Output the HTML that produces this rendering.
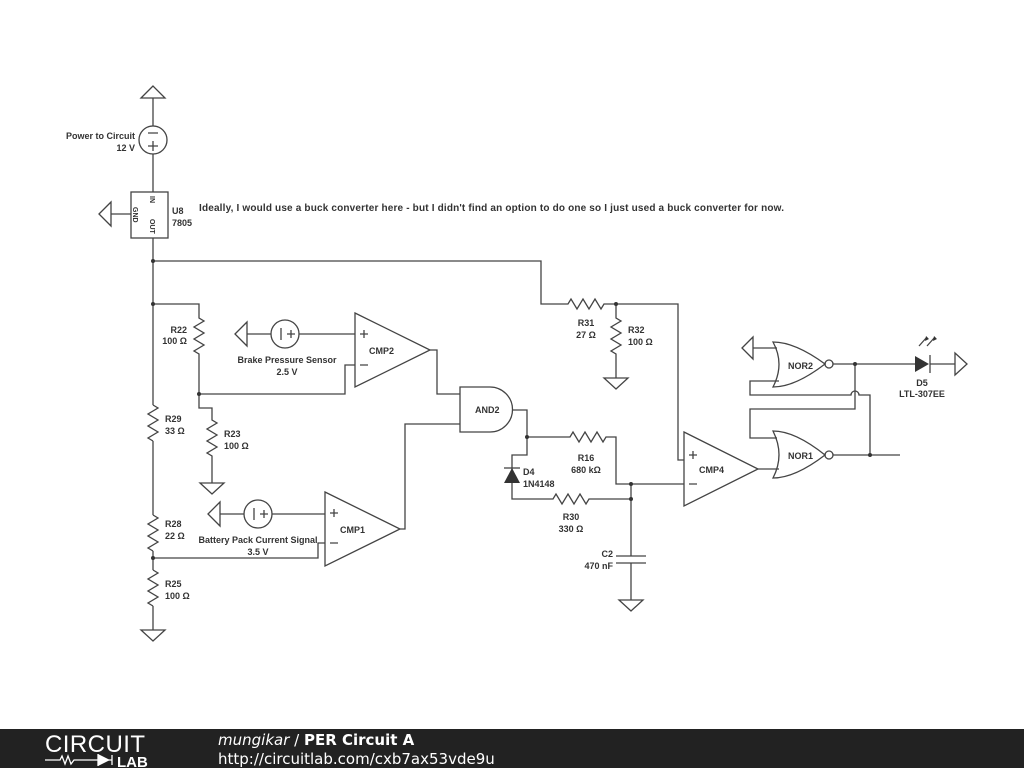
<!DOCTYPE html>
<html><head><meta charset="utf-8"><style>
body{margin:0;background:#fff;width:1024px;height:768px;overflow:hidden}
svg{display:block}
text{font-family:"Liberation Sans",sans-serif;font-size:9px;font-weight:bold;fill:#333}
</style></head><body>
<svg width="1024" height="768" viewBox="0 0 1024 768">
<g fill="none" stroke="#444" stroke-width="1.3">
<path d="M153 86 L141 98 L165 98 Z"/>
<path d="M153 98 V126 M153 154 V192"/>
<circle cx="153" cy="140" r="14"/>
<path d="M148 133 H158 M148 146 H158 M153 141 V151"/>
<rect x="131" y="192" width="37" height="46"/>
<path d="M99 214 L111 202 V226 Z M111 214 H131"/>
<path d="M153 238 V405 M153 441 V515 M153 551 V570 M153 606 V630"/>
<path d="M141 630 H165 L153 641 Z"/>
<path d="M153 261 H541 V304 H568 l3 -5 l6 10 l6 -10 l6 10 l6 -10 l6 10 l3 -5 H678 V460 H684"/>
<path d="M616 304 V318 l5 3 l-10 6 l10 6 l-10 6 l10 6 l-10 6 l5 3 V378"/>
<path d="M604 378 H628 L616 389 Z"/>
<path d="M153 304 H199 V318 l5 3 l-10 6 l10 6 l-10 6 l10 6 l-10 6 l5 3 V394 H345 V365 H355"/>
<path d="M199 394 V408 H212 V420 l5 3 l-10 6 l10 6 l-10 6 l10 6 l-10 6 l5 3 V483"/>
<path d="M200 483 H224 L212 494 Z"/>
<path d="M153 405 l5 3 l-10 6 l10 6 l-10 6 l10 6 l-10 6 l5 3"/>
<path d="M153 515 l5 3 l-10 6 l10 6 l-10 6 l10 6 l-10 6 l5 3"/>
<path d="M153 570 l5 3 l-10 6 l10 6 l-10 6 l10 6 l-10 6 l5 3"/>
<path d="M355 313 L430 350 L355 387 Z"/>
<path d="M360 334 H368 M364 330 V338 M360 365 H368"/>
<circle cx="285" cy="334" r="14"/>
<path d="M299 334 H355 M271 334 H247 M235 334 L247 322 V346 Z"/>
<path d="M281 328 V340 M287 334 H295 M291 330 V338"/>
<path d="M325 492 L400 529 L325 566 Z"/>
<path d="M330 513 H338 M334 509 V517 M330 543 H338"/>
<circle cx="258" cy="514" r="14"/>
<path d="M272 514 H325 M244 514 H220 M208 514 L220 502 V526 Z"/>
<path d="M254 508 V520 M260 514 H268 M264 510 V518"/>
<path d="M153 558 H318 V543 H325"/>
<path d="M460 387 H490 A22.5 22.5 0 0 1 490 432 H460 Z"/>
<path d="M430 350 H437 V394 H460 M400 529 H405 V424 H460"/>
<path d="M512 410 H527 V437 H570 l3 -5 l6 10 l6 -10 l6 10 l6 -10 l6 10 l3 -5 H616 V484 H684"/>
<path d="M527 437 V455 H512 V499 H553 l3 -5 l6 10 l6 -10 l6 10 l6 -10 l6 10 l3 -5 H631 V556 M631 563 V600"/>
<path d="M616 556 H646 M616 563 H646"/>
<path d="M619 600 H643 L631 611 Z"/>
<path d="M631 484 V499"/>
<path d="M504 468 H520"/>
<path d="M684 432 L758 469 L684 506 Z"/>
<path d="M689 455 H697 M693 451 V459 M689 484 H697"/>
<path d="M773 431 Q795 431 825 455 Q795 478 773 478 Q785 455 773 431 Z"/>
<circle cx="829" cy="455" r="4"/>
<path d="M833 455 H900 M758 469 H779 M777 438 H750 V409 H855 V364"/>
<path d="M773 342 Q795 342 825 364 Q795 387 773 387 Q785 364 773 342 Z"/>
<circle cx="829" cy="364" r="4"/>
<path d="M833 364 H915 M930 364 H955 M955 353 L967 364 L955 375 Z"/>
<path d="M777 348 H753 M742 348 L753 337 V359 Z"/>
<path d="M779 381 H750 V395 H851 A4 4 0 0 1 859 395 H870 V455"/>
<path d="M930 355 V373"/>
<path d="M919 346 l8 -9 M927 346 l8 -9"/>
</g>
<g fill="#333" stroke="none">
<path d="M915 356 L929 364 L915 372 Z"/>
<path d="M512 468 L504 483 H520 Z"/>
<path d="M919 337 l-1 5 l4 -2 Z M927 337 l-1 5 l4 -2 Z" transform="translate(7 -1)"/>
<circle cx="153" cy="261" r="2"/><circle cx="153" cy="304" r="2"/>
<circle cx="199" cy="394" r="2"/><circle cx="153" cy="558" r="2"/>
<circle cx="616" cy="304" r="2"/><circle cx="527" cy="437" r="2"/>
<circle cx="631" cy="484" r="2"/><circle cx="631" cy="499" r="2"/>
<circle cx="855" cy="364" r="2"/><circle cx="870" cy="455" r="2"/>
</g>
<text x="135" y="139" text-anchor="end">Power to Circuit</text>
<text x="135" y="151" text-anchor="end">12 V</text>
<text x="172" y="214">U8</text><text x="172" y="226">7805</text>
<text x="199" y="211" textLength="585" lengthAdjust="spacing" style="font-size:10px">Ideally, I would use a buck converter here - but I didn't find an option to do one so I just used a buck converter for now.</text>
<text transform="translate(150,196) rotate(90)" style="font-size:7px">IN</text>
<text transform="translate(150,219) rotate(90)" style="font-size:7px">OUT</text>
<text transform="translate(133,207) rotate(90)" style="font-size:7px">GND</text>
<text x="187" y="333" text-anchor="end">R22</text><text x="187" y="344" text-anchor="end">100 Ω</text>
<text x="287" y="363" text-anchor="middle">Brake Pressure Sensor</text><text x="287" y="375" text-anchor="middle">2.5 V</text>
<text x="369" y="354">CMP2</text>
<text x="165" y="422">R29</text><text x="165" y="434">33 Ω</text>
<text x="224" y="437">R23</text><text x="224" y="449">100 Ω</text>
<text x="165" y="527">R28</text><text x="165" y="539">22 Ω</text>
<text x="258" y="543" text-anchor="middle">Battery Pack Current Signal</text><text x="258" y="555" text-anchor="middle">3.5 V</text>
<text x="340" y="533">CMP1</text>
<text x="165" y="587">R25</text><text x="165" y="599">100 Ω</text>
<text x="475" y="413">AND2</text>
<text x="586" y="326" text-anchor="middle">R31</text><text x="586" y="338" text-anchor="middle">27 Ω</text>
<text x="628" y="333">R32</text><text x="628" y="345">100 Ω</text>
<text x="586" y="461" text-anchor="middle">R16</text><text x="586" y="473" text-anchor="middle">680 kΩ</text>
<text x="523" y="475">D4</text><text x="523" y="487">1N4148</text>
<text x="571" y="520" text-anchor="middle">R30</text><text x="571" y="532" text-anchor="middle">330 Ω</text>
<text x="613" y="557" text-anchor="end">C2</text><text x="613" y="569" text-anchor="end">470 nF</text>
<text x="699" y="473">CMP4</text>
<text x="788" y="369">NOR2</text><text x="788" y="459">NOR1</text>
<text x="922" y="386" text-anchor="middle">D5</text><text x="922" y="397" text-anchor="middle">LTL-307EE</text>
<rect x="0" y="729" width="1024" height="39" fill="#222"/>
<text x="95" y="752" text-anchor="middle" textLength="100" style="font-size:24px;font-weight:normal;fill:#fff">CIRCUIT</text>
<path d="M45 760 H60 l2 -4 l3 8 l3 -8 l3 8 l3 -4 H98 M98 754 V766 M98 760 H112 M112 755 V765" stroke="#fff" stroke-width="1.3" fill="none"/>
<path d="M98 754 L110 760 L98 766 Z" fill="#fff"/>
<text x="117" y="767" style="font-size:15px;fill:#fff">LAB</text>
<text x="218" y="745" style="font-size:15px;font-weight:normal;fill:#fff;font-family:'DejaVu Sans',sans-serif"><tspan font-style="italic">mungikar</tspan> / <tspan font-weight="bold">PER Circuit A</tspan></text>
<text x="218" y="764" style="font-size:15px;font-weight:normal;fill:#fff;font-family:'DejaVu Sans',sans-serif">http://circuitlab.com/cxb7ax53vde9u</text>
</svg>
</body></html>
